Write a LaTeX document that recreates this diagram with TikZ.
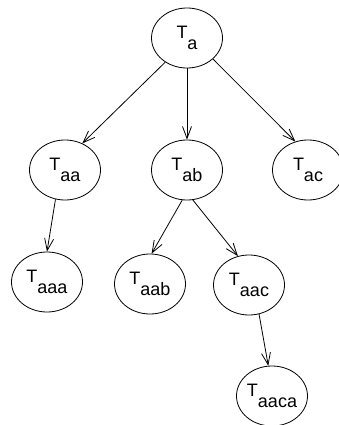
\documentclass[tikz,border=0pt]{standalone}
\usepackage{fontspec}
\setmainfont{Liberation Sans}
\usetikzlibrary{shapes.geometric,arrows.meta}
\newcommand\lowsub[1]{\lower 11pt\hbox{#1}}
\begin{document}
\begin{tikzpicture}[x=1pt,y=-1pt,
  tnode/.style={ellipse,draw,line width=0.8pt,minimum width=71pt,minimum height=60pt,
    inner sep=0pt,font=\fontsize{18}{18}\selectfont},
  link/.style={line width=0.8pt,-{Straight Barb[length=12pt,width=9pt,line width=0.8pt]}}]
  \clip (0,0) rectangle (339,425);
  \fill[white] (0,0) rectangle (339,425);
  % tree nodes
  \node[tnode] (ta)    at (187,38)  {T\lowsub{a}};
  \node[tnode] (taa)   at (65,170)  {T\lowsub{aa}};
  \node[tnode] (tab)   at (187,170) {T\lowsub{ab}};
  \node[tnode] (tac)   at (308,170) {T\lowsub{ac}};
  \node[tnode] (taaa)  at (47,282)  {T\lowsub{aaa}};
  \node[tnode] (taab)  at (150,284) {T\lowsub{aab}};
  \node[tnode] (taac)  at (249,285) {T\lowsub{aac}};
  \node[tnode] (taaca) at (272,396) {T\lowsub{aaca}};
  % parent -> child links
  \draw[link] (ta.-132)  -- (taa.57);
  \draw[link] (ta.south) -- (tab.north);
  \draw[link] (ta.-39)   -- (tac.114);
  \draw[link] (taa.-108) -- (taaa.north);
  \draw[link] (tab.-99)  -- (taab.87);
  \draw[link] (tab.-79)  -- (taac.111);
  \draw[link] (taac.-71) -- (taaca.97);
\end{tikzpicture}
\end{document}
